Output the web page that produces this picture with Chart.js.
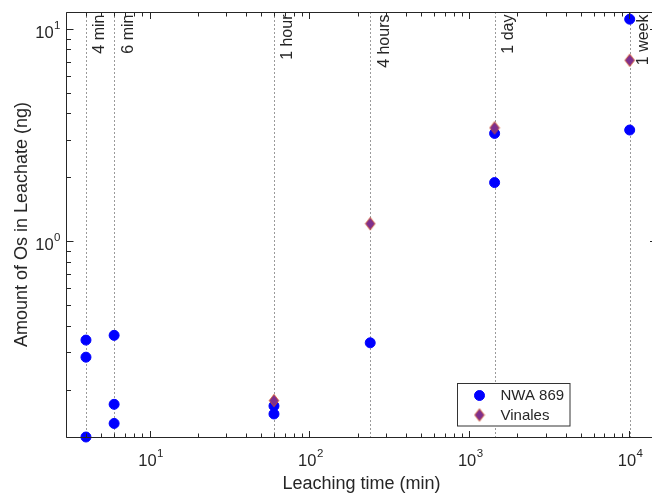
<!DOCTYPE html>
<html>
<head>
<meta charset="utf-8">
<script src="https://cdn.jsdelivr.net/npm/chart.js@4/dist/chart.umd.min.js"></script>
<style>
html, body { margin: 0; padding: 0; overflow: hidden; background: #ffffff; }
canvas { display: block; }
</style>
</head>
<body>
<canvas id="c" width="652" height="495"></canvas>
<script>
// ---- data ----
const nwaTimes = [4, 4, 4, 6, 6, 6, 60, 60, 240, 1440, 1440, 10080, 10080];
const nwaOs = [0.343, 0.285, 0.12, 0.361, 0.171, 0.139, 0.168, 0.154, 0.333, 1.89, 3.22, 11.1, 3.34];
const vinalesTimes = [60, 240, 1440, 10080];
const vinalesOs = [0.178, 1.21, 3.42, 7.11];
const eventTimes = [4, 6, 60, 240, 1440, 10080];
const eventLabels = ['4 min', '6 min', '1 hour', '4 hours', '1 day', '1 week'];
const xTickValues = [10, 100, 1000, 10000];
const xTickExponents = ['1', '2', '3', '4'];
const yTickValues = [1, 10];
const yTickExponents = ['0', '1'];
const seriesNames = ['NWA 869', 'Vinales'];
const xTitle = 'Leaching time (min)';
const yTitle = 'Amount of Os in Leachate (ng)';

const FONT = '"Liberation Sans", Arial, Helvetica, sans-serif';
const AXIS = '#262626';
const BLUE = '#0000ff';
const PURPLE = '#7e2f8e';
const EDGE = '#d95319';
const RIGHT_OVERHANG = 6; // the axes box continues past the cropped right edge

function toPoints(xs, ys) { return xs.map((x, i) => ({ x: x, y: ys[i] })); }

function minorValues(min, max) {
  const out = [];
  for (let e = Math.floor(Math.log10(min)); e <= Math.ceil(Math.log10(max)); e++) {
    for (let k = 1; k <= 9; k++) {
      const v = k * Math.pow(10, e);
      if (v >= min * 0.9999 && v <= max * 1.0001) out.push({ v: v, major: k === 1 });
    }
  }
  return out;
}

function diamondPath(ctx, x, y, hw, hh) {
  ctx.beginPath();
  ctx.moveTo(x, y - hh); ctx.lineTo(x + hw, y); ctx.lineTo(x, y + hh); ctx.lineTo(x - hw, y); ctx.closePath();
}
function makeDiamond() {
  const c = document.createElement('canvas');
  c.width = 12; c.height = 15;
  const g = c.getContext('2d');
  diamondPath(g, 6, 7.5, 4.8, 6.2);
  g.fillStyle = PURPLE; g.fill();
  g.lineWidth = 0.8; g.strokeStyle = EDGE; g.stroke();
  return c;
}
const diamondImg = makeDiamond();

const matlabPlugin = {
  id: 'matlabAxes',
  beforeDatasetsDraw(chart) {
    const ctx = chart.ctx, a = chart.chartArea, xs = chart.scales.x;
    ctx.save();
    ctx.strokeStyle = 'rgba(120,120,120,0.75)';
    ctx.lineWidth = 1;
    ctx.setLineDash([2, 2]);
    eventTimes.forEach(t => {
      const px = Math.round(xs.getPixelForValue(t)) + 0.5;
      ctx.beginPath(); ctx.moveTo(px, a.top); ctx.lineTo(px, a.bottom); ctx.stroke();
    });
    ctx.setLineDash([]);
    ctx.fillStyle = AXIS;
    ctx.font = '16px ' + FONT;
    ctx.textAlign = 'right';
    ctx.textBaseline = 'alphabetic';
    eventTimes.forEach((t, i) => {
      const px = xs.getPixelForValue(t);
      ctx.save();
      ctx.translate(px + 18.5, a.top + 2.5);
      ctx.rotate(-Math.PI / 2);
      ctx.fillText(eventLabels[i], 0, 0);
      ctx.restore();
    });
    ctx.restore();
  },
  afterDatasetsDraw(chart) {
    const ctx = chart.ctx, a = chart.chartArea, xs = chart.scales.x, ys = chart.scales.y;
    const boxRight = a.right + RIGHT_OVERHANG;
    ctx.save();
    ctx.strokeStyle = AXIS;
    ctx.lineWidth = 1;
    const L = Math.round(a.left) + 0.5, T = Math.round(a.top) + 0.5, B = Math.round(a.bottom) + 0.5;
    ctx.beginPath();
    ctx.moveTo(boxRight, T); ctx.lineTo(L, T); ctx.lineTo(L, B); ctx.lineTo(boxRight, B);
    ctx.stroke();
    minorValues(xs.min, xs.max).forEach(o => {
      const px = Math.round(xs.getPixelForValue(o.v)) + 0.5;
      const len = o.major ? 6.5 : 4;
      ctx.beginPath();
      ctx.moveTo(px, B); ctx.lineTo(px, B - len);
      ctx.moveTo(px, T); ctx.lineTo(px, T + len);
      ctx.stroke();
    });
    minorValues(ys.min, ys.max).forEach(o => {
      const py = Math.round(ys.getPixelForValue(o.v)) + 0.5;
      const len = o.major ? 7 : 4.5;
      ctx.beginPath();
      ctx.moveTo(L, py); ctx.lineTo(L + len, py);
      ctx.moveTo(boxRight, py); ctx.lineTo(boxRight - len, py);
      ctx.stroke();
    });
    ctx.fillStyle = AXIS;
    ctx.textBaseline = 'alphabetic';
    ctx.textAlign = 'left';
    const mainFont = '16.5px ' + FONT, supFont = '11.5px ' + FONT;
    xTickValues.forEach((v, i) => {
      const px = xs.getPixelForValue(v);
      ctx.font = mainFont; const w1 = ctx.measureText('10').width;
      ctx.font = supFont; const w2 = ctx.measureText(xTickExponents[i]).width;
      const sx = px - (w1 + w2) / 2 + 1;
      ctx.font = mainFont; ctx.fillText('10', sx, a.bottom + 28.5);
      ctx.font = supFont; ctx.fillText(xTickExponents[i], sx + w1 + 0.5, a.bottom + 19.5);
    });
    yTickValues.forEach((v, i) => {
      const py = ys.getPixelForValue(v);
      ctx.font = mainFont; const w1 = ctx.measureText('10').width;
      ctx.font = supFont; const w2 = ctx.measureText(yTickExponents[i]).width;
      const ex = a.left - 5.5;
      const sx = ex - w1 - w2 - 0.5;
      ctx.font = mainFont; ctx.fillText('10', sx, py + 9);
      ctx.font = supFont; ctx.fillText(yTickExponents[i], sx + w1 + 0.5, py);
    });
    ctx.font = '18px ' + FONT;
    ctx.textAlign = 'center';
    ctx.fillText(xTitle, (a.left + boxRight) / 2, 489);
    ctx.save();
    ctx.translate(27, (a.top + a.bottom) / 2);
    ctx.rotate(-Math.PI / 2);
    ctx.fillText(yTitle, 0, 0);
    ctx.restore();
    // legend
    const lx = 457.5, ly = 383.5, lw = 112.5, lh = 42.5;
    ctx.fillStyle = '#ffffff';
    ctx.fillRect(lx, ly, lw, lh);
    ctx.strokeStyle = '#333333';
    ctx.lineWidth = 1;
    ctx.strokeRect(lx, ly, lw, lh);
    const ds = chart.data.datasets;
    ctx.beginPath(); ctx.arc(479.5, 395.5, 5, 0, Math.PI * 2);
    ctx.fillStyle = ds[0].backgroundColor; ctx.fill();
    ctx.strokeStyle = ds[0].borderColor; ctx.stroke();
    ctx.drawImage(diamondImg, 479.5 - 6, 415 - 7.5);
    ctx.fillStyle = AXIS;
    ctx.font = '15px ' + FONT;
    ctx.textAlign = 'left';
    ctx.textBaseline = 'middle';
    ctx.fillText(ds[0].label, 500.5, 396);
    ctx.fillText(ds[1].label, 500.5, 415.5);
    ctx.restore();
  }
};

new Chart(document.getElementById('c'), {
  type: 'scatter',
  data: {
    datasets: [
      {
        label: seriesNames[0],
        data: toPoints(nwaTimes, nwaOs),
        pointStyle: 'circle',
        pointRadius: 5,
        borderWidth: 1,
        backgroundColor: BLUE,
        borderColor: BLUE,
        clip: false,
        order: 1
      },
      {
        label: seriesNames[1],
        data: toPoints(vinalesTimes, vinalesOs),
        pointStyle: diamondImg,
        pointRadius: 6,
        backgroundColor: PURPLE,
        borderColor: EDGE,
        clip: false,
        order: 0
      }
    ]
  },
  options: {
    responsive: false,
    animation: false,
    events: [],
    layout: { autoPadding: false, padding: { left: 66, top: 12, right: 1, bottom: 58 } },
    plugins: { legend: { display: false }, tooltip: { enabled: false } },
    scales: {
      x: { type: 'logarithmic', min: 3, max: 13700, display: false },
      y: { type: 'logarithmic', min: 0.12, max: 12, display: false }
    }
  },
  plugins: [matlabPlugin]
});
</script>
</body>
</html>
